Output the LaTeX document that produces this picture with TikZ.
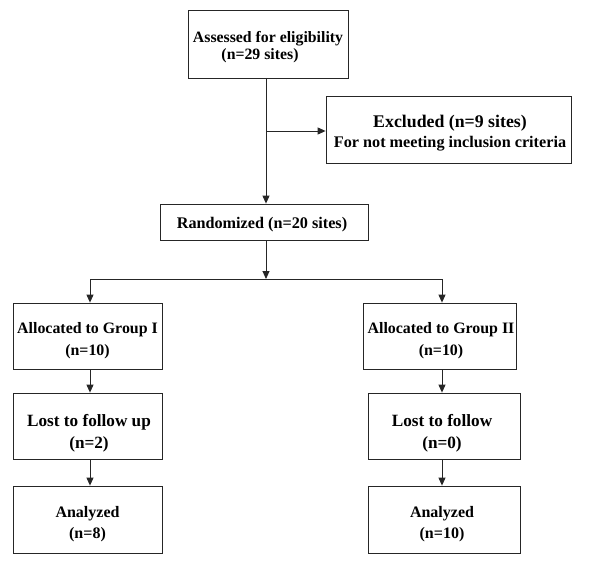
\documentclass[tikz,border=0pt]{standalone}
\usepackage{fontspec}
\setmainfont{Liberation Serif}
\usetikzlibrary{arrows.meta}
\begin{document}
\begin{tikzpicture}[x=1pt,y=-1pt,
  box/.style={draw=black!85,line width=0.8pt,inner sep=0pt},
  txt/.style={align=center,inner sep=0pt,font=\bfseries\fontsize{15.8}{16.6}\selectfont},
  conn/.style={draw=black!85,line width=0.9pt},
  arr/.style={conn,-{Triangle[length=8pt,width=7pt]}}]
\useasboundingbox (0,0) rectangle (594,564);
% boxes
\node[box,minimum width=160pt,minimum height=68pt] (assess) at (268,44) {};
\node[box,minimum width=245pt,minimum height=67pt] (excl) at (448.5,129.5) {};
\node[box,minimum width=208pt,minimum height=36pt] (rand) at (264,222) {};
\node[box,minimum width=149pt,minimum height=66pt] (g1) at (87.5,336) {};
\node[box,minimum width=149pt,minimum height=66pt] (l1) at (87.5,426) {};
\node[box,minimum width=149pt,minimum height=67pt] (a1) at (87.5,519.5) {};
\node[box,minimum width=153pt,minimum height=66pt] (g2) at (439.5,336) {};
\node[box,minimum width=152pt,minimum height=66pt] (l2) at (444,426) {};
\node[box,minimum width=152pt,minimum height=67pt] (a2) at (444,519.5) {};
% texts
\node[txt] (assessT) at (268,47) {Assessed for eligibility\\\hspace*{-16pt}(n=29 sites)};
\node[txt,font=\bfseries\fontsize{16.2}{20}\selectfont] (exclT) at (450,133) {{\fontsize{17.8}{20}\selectfont Excluded (n=9 sites)}\\For not meeting inclusion criteria};
\node[txt,font=\bfseries\fontsize{16.2}{18}\selectfont] (randT) at (262,225) {Randomized (n=20 sites)};
\node[txt,font=\bfseries\fontsize{15.9}{22}\selectfont] (g1T) at (87.5,340.5) {Allocated to Group I\\(n=10)};
\node[txt,font=\bfseries\fontsize{17.2}{22}\selectfont] (l1T) at (89,433) {Lost to follow up\\(n=2)};
\node[txt,font=\bfseries\fontsize{16}{21}\selectfont] (a1T) at (87.5,524.5) {Analyzed\\(n=8)};
\node[txt,font=\bfseries\fontsize{15.9}{22}\selectfont] (g2T) at (441,340.5) {Allocated to Group II\\(n=10)};
\node[txt,font=\bfseries\fontsize{17.2}{22}\selectfont] (l2T) at (442,433) {Lost to follow\\(n=0)};
\node[txt,font=\bfseries\fontsize{16}{21}\selectfont] (a2T) at (442,524.5) {Analyzed\\(n=10)};
% connectors
\coordinate (top) at (266,78);
\coordinate (br) at (266,131);
\coordinate (split) at (266,279);
\coordinate (sl) at (90,279);
\coordinate (sr) at (442,279);
\draw[arr] (top) -- (rand.north -| top);
\draw[arr] (br) -- (excl.west |- br);
\draw[arr] (rand.south -| split) -- (split);
\draw[conn] (sl) -- (sr);
\draw[arr] (sl) -- (g1.north -| sl);
\draw[arr] (sr) -- (g2.north -| sr);
\draw[arr] (g1.south -| sl) -- (l1.north -| sl);
\draw[arr] (l1.south -| sl) -- (a1.north -| sl);
\draw[arr] (g2.south -| sr) -- (l2.north -| sr);
\draw[arr] (l2.south -| sr) -- (a2.north -| sr);
\end{tikzpicture}
\end{document}
